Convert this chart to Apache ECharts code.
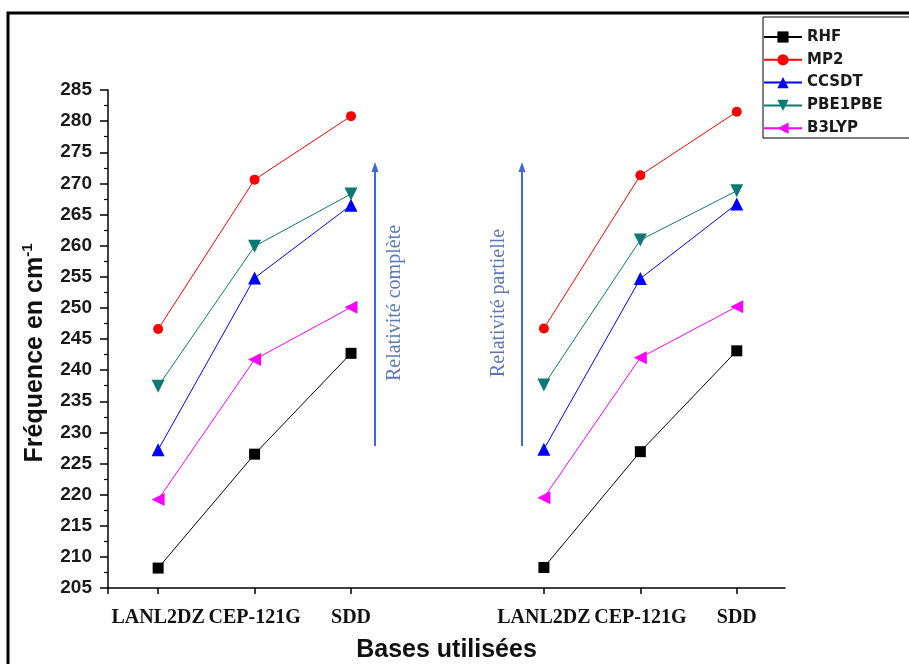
<!DOCTYPE html>
<html>
<head>
<meta charset="utf-8">
<script src="https://cdn.jsdelivr.net/npm/echarts@6/dist/echarts.min.js"></script>
<style>
  html, body { margin: 0; padding: 0; background: #fff; }
  #chart { width: 909px; height: 664px; }
</style>
</head>
<body>
<div id="chart"></div>
<script>
// Basis sets along the x axis: two groups (full / partial relativity), slot 3 left empty
const basisLabels = ['LANL2DZ', 'CEP-121G', 'SDD', 'LANL2DZ', 'CEP-121G', 'SDD'];
const basisSlots = [0, 1, 2, 4, 5, 6];

// Frequencies (cm-1) per method, in the order of basisLabels
const rhf     = [208.2, 226.5, 242.7, 208.3, 226.9, 243.1];
const mp2     = [246.6, 270.6, 280.8, 246.7, 271.3, 281.5];
const ccsdt   = [227.2, 254.8, 266.5, 227.3, 254.7, 266.7];
const pbe1pbe = [237.4, 259.9, 268.3, 237.6, 260.9, 268.8];
const b3lyp   = [219.2, 241.7, 250.1, 219.5, 242.0, 250.2];

const yTicks = [205, 210, 215, 220, 225, 230, 235, 240, 245, 250, 255, 260, 265, 270, 275, 280, 285];

// Build [x, y] pairs with a break between the two groups
function toPoints(values) {
  const pts = [];
  values.forEach((v, i) => {
    if (i === 3) pts.push([3, '-']);
    pts.push([basisSlots[i], v]);
  });
  return pts;
}

const methods = [
  { name: 'RHF',     values: rhf,     color: '#000000', symbol: 'rect',     size: 11, rotate: 0 },
  { name: 'MP2',     values: mp2,     color: '#ff0000', symbol: 'circle',   size: 10, rotate: 0 },
  { name: 'CCSDT',   values: ccsdt,   color: '#0000ff', symbol: 'triangle', size: 13, rotate: 0 },
  { name: 'PBE1PBE', values: pbe1pbe, color: '#0c7a72', symbol: 'triangle', size: 13, rotate: 180 },
  { name: 'B3LYP',   values: b3lyp,   color: '#ff00ff', symbol: 'triangle', size: 13, rotate: 90 }
];

const chart = echarts.init(document.getElementById('chart'), null, { renderer: 'canvas' });

const xMin = -0.52, xMax = 6.5;
const sans = 'Liberation Sans, Arial, sans-serif';
const serif = 'Liberation Serif, Times New Roman, serif';

chart.setOption({
  backgroundColor: '#ffffff',
  animation: false,
  grid: { left: 108, right: 124, top: 90, bottom: 76, containLabel: false, outerBoundsMode: 'none' },
  legend: {
    orient: 'vertical',
    left: 763,
    top: 29.5,
    padding: 0,
    itemWidth: 38,
    itemHeight: 14,
    itemGap: 7.8,
    data: methods.map(m => m.name),
    textStyle: { fontFamily: 'DejaVu Sans, sans-serif', fontWeight: 'bold', fontSize: 15, lineHeight: 14, color: '#1a1a1a' }
  },
  xAxis: {
    type: 'value',
    min: xMin,
    max: xMax,
    splitLine: { show: false },
    axisLine: { show: true, onZero: false, lineStyle: { color: '#000', width: 1.5 } },
    axisTick: { show: true, length: 6, inside: false, lineStyle: { color: '#000', width: 1.5 }, customValues: [xMin].concat(basisSlots) },
    axisLabel: {
      customValues: basisSlots,
      margin: 20,
      fontFamily: serif,
      fontWeight: 'bold',
      fontSize: 20,
      color: '#111',
      formatter: function (v) {
        const i = basisSlots.indexOf(Math.round(v));
        return i >= 0 ? basisLabels[i] : '';
      }
    },
    name: 'Bases utilisées',
    nameLocation: 'middle',
    nameGap: 50,
    nameTextStyle: { fontFamily: sans, fontWeight: 'bold', fontSize: 25, color: '#111' }
  },
  yAxis: {
    type: 'value',
    min: 205,
    max: 285,
    interval: 5,
    splitLine: { show: false },
    axisLine: { show: true, onZero: false, lineStyle: { color: '#000', width: 1.5 } },
    axisTick: { show: true, length: 8, lineStyle: { color: '#000', width: 1.5 } },
    minorTick: { show: true, splitNumber: 2, length: 4, lineStyle: { color: '#000', width: 1.2 } },
    axisLabel: {
      margin: 16,
      fontFamily: sans,
      fontWeight: 'bold',
      fontSize: 19,
      color: '#1a1a1a',
      formatter: function (v) { return yTicks.indexOf(v) >= 0 ? String(v) : ''; }
    },
    name: '{a|Fréquence en cm}{b|-1}',
    nameLocation: 'middle',
    nameGap: 58,
    nameTextStyle: {
      padding: [0, 28, 0, 0],
      rich: {
        a: { fontFamily: sans, fontWeight: 'bold', fontSize: 25, color: '#111', lineHeight: 30 },
        b: { fontFamily: sans, fontWeight: 'bold', fontSize: 15, color: '#111', verticalAlign: 'top', lineHeight: 30, padding: [0, 0, 11, 0] }
      }
    }
  },
  series: methods.map(m => ({
    name: m.name,
    type: 'line',
    data: toPoints(m.values),
    connectNulls: false,
    symbol: m.symbol,
    symbolSize: m.size,
    symbolRotate: m.rotate,
    showAllSymbol: true,
    lineStyle: { color: m.color, width: 1 },
    itemStyle: { color: m.color },
    emphasis: { disabled: true }
  })),
  graphic: [
    // outer frame
    { type: 'rect', silent: true, z: 0, shape: { x: 8, y: 13, width: 1000, height: 700 },
      style: { fill: 'none', stroke: '#000', lineWidth: 3 } },
    // legend box
    { type: 'rect', silent: true, z: 0, shape: { x: 763, y: 17, width: 200, height: 121 },
      style: { fill: '#fff', stroke: '#000', lineWidth: 1 } },
    // arrow: full relativity
    { type: 'line', silent: true, shape: { x1: 375, y1: 446, x2: 375, y2: 166 },
      style: { stroke: '#4266e0', lineWidth: 2 } },
    { type: 'polygon', silent: true, shape: { points: [[375, 162], [371.5, 172], [378.5, 172]] },
      style: { fill: '#4266e0' } },
    { type: 'text', silent: true, x: 395, y: 303, rotation: Math.PI / 2,
      style: { text: 'Relativité complète', fontFamily: serif, fontSize: 20,
               fill: '#5b78b5', align: 'center', verticalAlign: 'middle' } },
    // arrow: partial relativity
    { type: 'line', silent: true, shape: { x1: 522, y1: 446, x2: 522, y2: 166 },
      style: { stroke: '#4266e0', lineWidth: 2 } },
    { type: 'polygon', silent: true, shape: { points: [[522, 162], [518.5, 172], [525.5, 172]] },
      style: { fill: '#4266e0' } },
    { type: 'text', silent: true, x: 499, y: 303, rotation: Math.PI / 2,
      style: { text: 'Relativité partielle', fontFamily: serif, fontSize: 20,
               fill: '#5b78b5', align: 'center', verticalAlign: 'middle' } }
  ]
});
</script>
</body>
</html>
